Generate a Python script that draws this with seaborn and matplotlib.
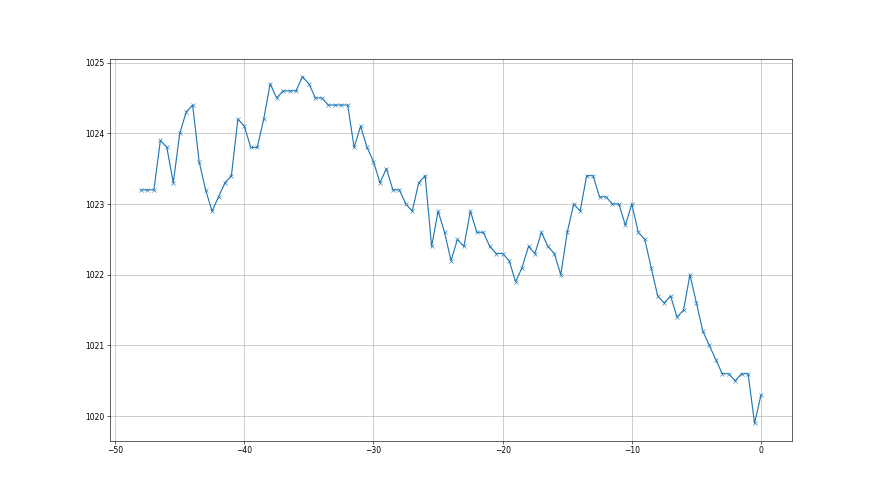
import matplotlib
matplotlib.use("Agg")
import matplotlib.pyplot as plt
import seaborn as sns
import numpy as np
import pandas as pd

hours = [-48 + 0.5 * i for i in range(97)]
pressure = [
    1023.2, 1023.2, 1023.2, 1023.9, 1023.8, 1023.3, 1024.0, 1024.3, 1024.4, 1023.6,
    1023.2, 1022.9, 1023.1, 1023.3, 1023.4, 1024.2, 1024.1, 1023.8, 1023.8, 1024.2,
    1024.7, 1024.5, 1024.6, 1024.6, 1024.6, 1024.8, 1024.7, 1024.5, 1024.5, 1024.4,
    1024.4, 1024.4, 1024.4, 1023.8, 1024.1, 1023.8, 1023.6, 1023.3, 1023.5, 1023.2,
    1023.2, 1023.0, 1022.9, 1023.3, 1023.4, 1022.4, 1022.9, 1022.6, 1022.2, 1022.5,
    1022.4, 1022.9, 1022.6, 1022.6, 1022.4, 1022.3, 1022.3, 1022.2, 1021.9, 1022.1,
    1022.4, 1022.3, 1022.6, 1022.4, 1022.3, 1022.0, 1022.6, 1023.0, 1022.9, 1023.4,
    1023.4, 1023.1, 1023.1, 1023.0, 1023.0, 1022.7, 1023.0, 1022.6, 1022.5, 1022.1,
    1021.7, 1021.6, 1021.7, 1021.4, 1021.5, 1022.0, 1021.6, 1021.2, 1021.0, 1020.8,
    1020.6, 1020.6, 1020.5, 1020.6, 1020.6, 1019.9, 1020.3,
]

df = pd.DataFrame({"hours": hours, "pressure": pressure})

fig, ax = plt.subplots(figsize=(16, 9), dpi=55)
sns.lineplot(data=df, x="hours", y="pressure", marker="x", color="#1f77b4",
             markeredgecolor="#1f77b4", linewidth=1.5, markersize=6, ax=ax)
ax.set_xlabel("")
ax.set_ylabel("")
ax.grid(True)
fig.savefig("out.png", dpi=55)
